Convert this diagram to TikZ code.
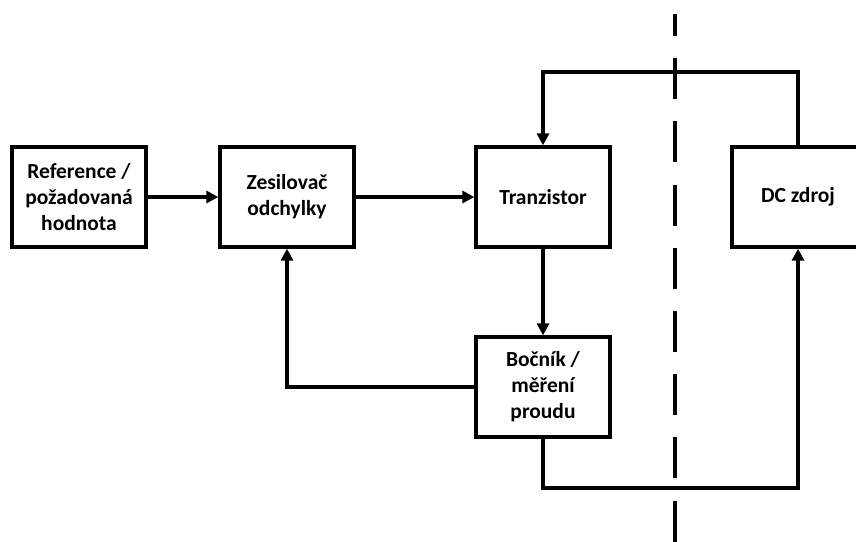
\documentclass[tikz,border=0pt]{standalone}
\usepackage{fontspec}
\setmainfont{Carlito}
\usetikzlibrary{arrows.meta}
\tikzset{
  block/.style={draw, line width=3.3pt, minimum width=134pt, minimum height=100pt,
    align=center, inner sep=0pt, font=\bfseries\fontsize{21.5}{26}\selectfont},
  wire/.style={line width=3.3pt},
  flow/.style={wire, -{Triangle[length=12pt,width=12pt]}}
}
\begin{document}
\begin{tikzpicture}[x=1pt,y=-1pt]
  \useasboundingbox (0,0) rectangle (856,541);
  % blocks
  \node[block] (ref) at (79,197) {Reference /\\požadovaná\\hodnota};
  \node[block] (amp) at (287,197) {Zesilovač\\odchylky};
  \node[block] (tr) at (543,197) {Tranzistor};
  \node[block, minimum width=132pt] (dc) at (798,197) {DC zdroj};
  \node[block] (sh) at (543,387) {Bočník /\\měření\\proudu};
  % dividing line
  \coordinate (dtop) at (675,14);
  \coordinate (dbot) at (675,545);
  \draw[line width=3.3pt, dash pattern=on 41pt off 22.2pt, dash phase=19pt] (dtop) -- (dbot);
  % signal path
  \draw[flow] (ref.east) -- (amp.west);
  \draw[flow] (amp.east) -- (tr.west);
  \draw[flow] (tr.south) -- (sh.north);
  \draw[flow] (sh.west) -| (amp.south);
  % supply loop
  \coordinate (topy) at (0,72);
  \coordinate (boty) at (0,488);
  \draw[flow] (dc.north) -- (dc.north |- topy) -- (tr.north |- topy) -- (tr.north);
  \draw[flow] (sh.south) -- (sh.south |- boty) -- (dc.south |- boty) -- (dc.south);
\end{tikzpicture}
\end{document}
